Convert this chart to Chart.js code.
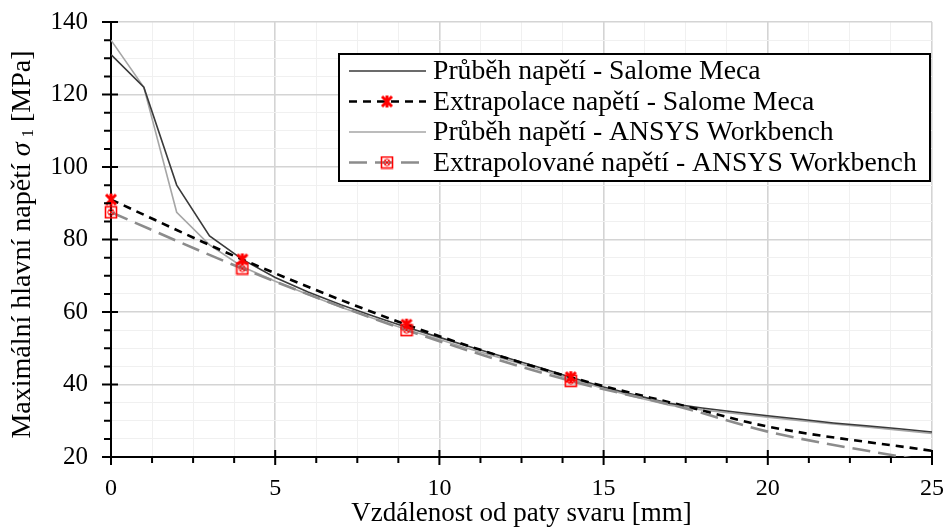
<!DOCTYPE html>
<html lang="cs">
<head>
<meta charset="UTF-8">
<title>Maximální hlavní napětí</title>
<script src="https://cdn.jsdelivr.net/npm/chart.js"></script>
<style>
  body { margin: 0; background: #fff; }
  canvas { display: block; }
</style>
</head>
<body>
<canvas id="chartCanvas" width="946" height="530"></canvas>
<script>
// --- data ---
const nodeX = [0, 1, 2, 3, 4, 5, 6, 7, 8, 9, 10, 11, 12, 13, 14, 15, 16, 17, 18, 19, 20, 21, 22, 23, 24, 25];
const salomeStress = [131, 122, 95, 81, 74.5, 69.5, 65.5, 62, 58.8, 55.8, 53, 50.2, 47.5, 44.8, 42, 39.3, 37, 34.8, 33.5, 32.4, 31.4, 30.4, 29.4, 28.6, 27.8, 26.9];
const ansysStress = [135, 122, 87.5, 78.5, 72.5, 68.5, 64.8, 61.3, 58.2, 55.2, 52.4, 49.6, 47, 44.3, 41.5, 38.9, 36.5, 34.3, 33, 32, 31, 30, 29.1, 28.3, 27.4, 26.5];

const salomeExtrapX = [0, 4, 9, 14, 17.5, 20, 25];
const salomeExtrapY = [91, 74.5, 56.5, 42, 34, 28.4, 21.7];
const ansysExtrapX = [0, 4, 9, 14, 17.5, 20, 25];
const ansysExtrapY = [87.5, 72, 55, 41, 33.4, 27, 18.6];
const markerX = [0, 4, 9, 14];

const seriesNames = [
  'Průběh napětí - Salome Meca',
  'Extrapolace napětí - Salome Meca',
  'Průběh napětí - ANSYS Workbench',
  'Extrapolované napětí - ANSYS Workbench'
];
const xTitle = 'Vzdálenost od paty svaru [mm]';
// y title pieces: text, sigma (italic), subscript, unit
const yTitleParts = ['Maximální hlavní napětí ', 'σ', '1', ' [MPa]'];
const xMajor = 5, xMinor = 1.25, yMajor = 20, yMinor = 5;

const FONT = "'Liberation Serif', 'Times New Roman', serif";

function pairs(xs, ys) {
  return xs.map((x, i) => ({ x: x, y: ys[i] }));
}

// marker pictures
function starMarker() {
  const c = document.createElement('canvas');
  c.width = 14; c.height = 14;
  const g = c.getContext('2d');
  g.strokeStyle = '#ff0000';
  g.lineWidth = 3;
  g.beginPath();
  g.moveTo(2, 2); g.lineTo(12, 12);
  g.moveTo(12, 2); g.lineTo(2, 12);
  g.moveTo(7, 1); g.lineTo(7, 13);
  g.stroke();
  return c;
}
function boxMarker() {
  const c = document.createElement('canvas');
  c.width = 14; c.height = 14;
  const g = c.getContext('2d');
  g.strokeStyle = '#ff0000';
  g.lineWidth = 1.6;
  g.strokeRect(1.5, 1.5, 11, 11);
  g.lineWidth = 1;
  g.beginPath();
  g.arc(7, 7, 3.2, 0, Math.PI * 2);
  g.moveTo(5, 5); g.lineTo(9, 9);
  g.moveTo(9, 5); g.lineTo(5, 9);
  g.stroke();
  return c;
}
const starImg = starMarker();
const boxImg = boxMarker();

function markerRadius(ctx) {
  const p = ctx.raw;
  return p && markerX.includes(p.x) ? 6 : 0;
}

// legend drawn inside the plot, as in the original
const boxLegend = {
  id: 'boxLegend',
  afterDraw(chart) {
    const ctx = chart.ctx;
    const L = 339, T = 54, R = 930, B = 181;
    ctx.save();
    ctx.fillStyle = '#fff';
    ctx.fillRect(L, T, R - L, B - T);
    ctx.strokeStyle = '#000';
    ctx.lineWidth = 2;
    ctx.strokeRect(L, T, R - L, B - T);
    chart.data.datasets.forEach((ds, i) => {
      const y = 71 + i * 30.5;
      ctx.strokeStyle = ds.borderColor;
      ctx.lineWidth = ds.borderWidth;
      ctx.setLineDash(ds.legendDash || []);
      ctx.beginPath();
      ctx.moveTo(349, y);
      ctx.lineTo(426, y);
      ctx.stroke();
      ctx.setLineDash([]);
      if (ds.marker) ctx.drawImage(ds.marker, 387 - ds.marker.width / 2, y - ds.marker.height / 2);
      ctx.fillStyle = '#000';
      ctx.font = '27.7px ' + FONT;
      ctx.textBaseline = 'middle';
      ctx.fillText(ds.label, 433, y + 1);
    });
    ctx.restore();
  }
};

// y axis title with italic sigma and subscript
const yAxisTitle = {
  id: 'yAxisTitle',
  afterDraw(chart) {
    const ctx = chart.ctx;
    const area = chart.chartArea;
    const size = 28;
    const fonts = [
      size + 'px ' + FONT,
      'italic ' + size + 'px ' + FONT,
      Math.round(size * 0.6) + 'px ' + FONT,
      size + 'px ' + FONT
    ];
    ctx.save();
    let total = 0;
    const widths = yTitleParts.map((t, i) => {
      ctx.font = fonts[i];
      const w = ctx.measureText(t).width + (i === 1 ? 5 : 0);
      total += w;
      return w;
    });
    ctx.translate(23, (area.top + area.bottom) / 2 + 5);
    ctx.rotate(-Math.PI / 2);
    ctx.fillStyle = '#000';
    ctx.textBaseline = 'middle';
    let x = -total / 2;
    yTitleParts.forEach((t, i) => {
      ctx.font = fonts[i];
      ctx.fillText(t, x, i === 2 ? 6 : 0);
      x += widths[i];
    });
    ctx.restore();
  }
};

// axis tick marks (major ticks cross the axis line)
const axisTicks = {
  id: 'axisTicks',
  afterDatasetsDraw(chart) {
    const ctx = chart.ctx;
    const xs = chart.scales.x, ys = chart.scales.y;
    ctx.save();
    ctx.strokeStyle = '#000';
    ctx.lineWidth = 2;
    ctx.beginPath();
    xs.ticks.forEach(t => {
      const px = xs.getPixelForValue(t.value);
      const major = t.value % xMajor === 0;
      ctx.moveTo(px, ys.bottom - (major ? 7 : 0));
      ctx.lineTo(px, ys.bottom + (major ? 8 : 6));
    });
    ys.ticks.forEach(t => {
      const py = ys.getPixelForValue(t.value);
      const major = t.value % yMajor === 0;
      ctx.moveTo(xs.left - (major ? 9 : 7), py);
      ctx.lineTo(xs.left + (major ? 7 : 0), py);
    });
    ctx.stroke();
    ctx.restore();
  }
};

const ctx = document.getElementById('chartCanvas').getContext('2d');
new Chart(ctx, {
  type: 'line',
  data: {
    datasets: [
      {
        label: seriesNames[0],
        data: pairs(nodeX, salomeStress),
        borderColor: '#3a3a3a',
        borderWidth: 1.6,
        pointRadius: 0,
        tension: 0,
        order: 2
      },
      {
        label: seriesNames[1],
        data: pairs(salomeExtrapX, salomeExtrapY),
        borderColor: '#000',
        borderWidth: 2.6,
        borderDash: [8, 6],
        legendDash: [8, 6],
        cubicInterpolationMode: 'monotone',
        pointStyle: starImg,
        marker: starImg,
        pointRadius: markerRadius,
        clip: { left: 12, top: 0, right: 0, bottom: 0 },
        order: 1
      },
      {
        label: seriesNames[2],
        data: pairs(nodeX, ansysStress),
        borderColor: '#a6a6a6',
        borderWidth: 1.6,
        pointRadius: 0,
        tension: 0,
        order: 3
      },
      {
        label: seriesNames[3],
        data: pairs(ansysExtrapX, ansysExtrapY),
        borderColor: '#8c8c8c',
        borderWidth: 2.6,
        borderDash: [18, 8],
        legendDash: [18, 8],
        cubicInterpolationMode: 'monotone',
        pointStyle: boxImg,
        marker: boxImg,
        pointRadius: markerRadius,
        clip: { left: 12, top: 0, right: 0, bottom: 0 },
        order: 0
      }
    ]
  },
  options: {
    responsive: false,
    animation: false,
    events: [],
    layout: { padding: { top: 22, right: 14, left: 0, bottom: 0 } },
    plugins: {
      legend: { display: false },
      tooltip: { enabled: false }
    },
    scales: {
      x: {
        type: 'linear',
        min: 0,
        max: 25,
        afterFit: s => { s.height = 73; s.paddingLeft = 0; s.paddingRight = 0; },
        border: { display: true, color: '#000', width: 2 },
        grid: {
          drawTicks: false,
          color: c => (c.tick && c.tick.value % xMajor === 0) ? '#d4d4d4' : '#f0f0f0',
          lineWidth: c => (c.tick && c.tick.value % xMajor === 0) ? 1.6 : 1
        },
        ticks: {
          stepSize: xMinor,
          autoSkip: false,
          maxRotation: 0,
          maxTicksLimit: 100,
          padding: 17,
          color: '#000',
          font: { family: FONT, size: 24 },
          callback: v => v % xMajor === 0 ? v : ''
        },
        title: {
          display: true,
          text: xTitle,
          color: '#000',
          font: { family: FONT, size: 27, lineHeight: 1 },
          padding: { top: 0, bottom: 3 }
        }
      },
      y: {
        type: 'linear',
        min: 20,
        max: 140,
        afterFit: s => { s.width = 111; s.paddingTop = 0; s.paddingBottom = 0; },
        border: { display: true, color: '#000', width: 2 },
        grid: {
          drawTicks: false,
          color: c => (c.tick && c.tick.value % yMajor === 0) ? '#d4d4d4' : '#f0f0f0',
          lineWidth: c => (c.tick && c.tick.value % yMajor === 0) ? 1.6 : 1
        },
        ticks: {
          stepSize: yMinor,
          autoSkip: false,
          maxTicksLimit: 100,
          padding: 23,
          color: '#000',
          font: { family: FONT, size: 25 },
          callback: v => v % yMajor === 0 ? v : ''
        },
        title: { display: false }
      }
    }
  },
  plugins: [axisTicks, boxLegend, yAxisTitle]
});
</script>
</body>
</html>
